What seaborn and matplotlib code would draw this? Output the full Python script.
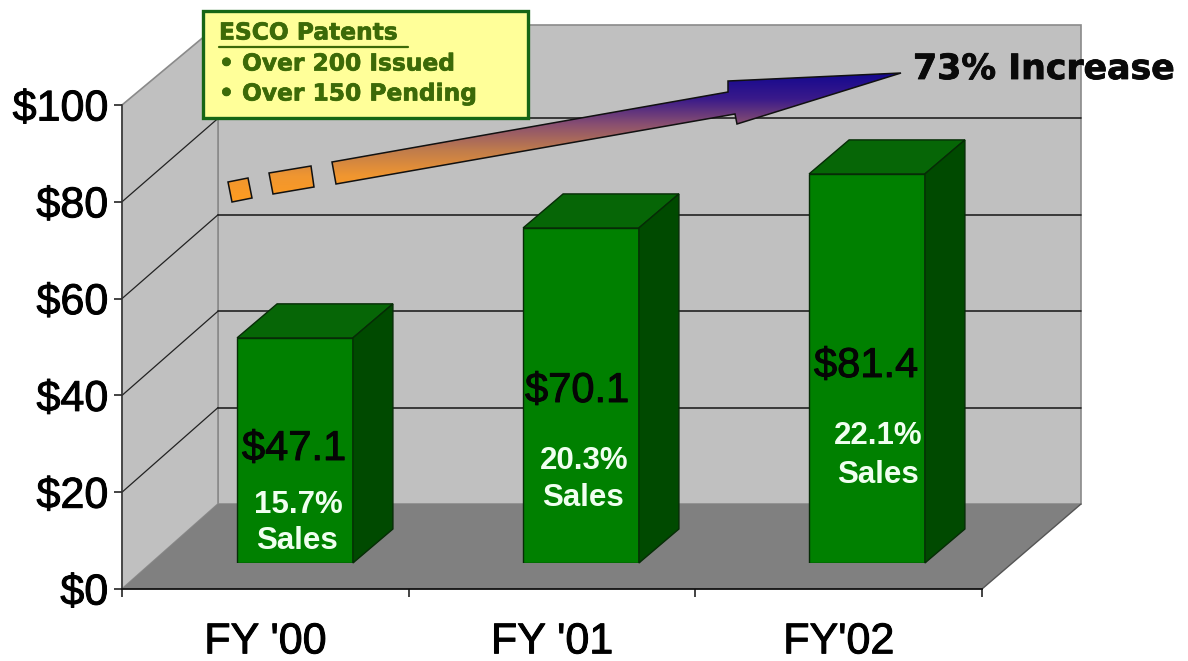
import numpy as np
import pandas as pd
import matplotlib
matplotlib.use("Agg")
import matplotlib.pyplot as plt
import matplotlib.patheffects as pe
from matplotlib import font_manager
from matplotlib.colors import LinearSegmentedColormap
from matplotlib.patches import Polygon, PathPatch, Rectangle
from matplotlib.path import Path
import seaborn as sns

# Chart values
YEARS = ["FY '00", "FY '01", "FY'02"]
SPEND = [47.1, 70.1, 81.4]
PCT_SALES = ["15.7%", "20.3%", "22.1%"]
Y_TICKS = [0, 20, 40, 60, 80, 100]
Y_LABELS = ["$0", "$20", "$40", "$60", "$80", "$100"]
NOTE_LINES = ["ESCO Patents", "\u2022 Over 200 Issued", "\u2022 Over 150 Pending"]
INCREASE = "73% Increase"

W, H = 1188, 661
SANS = "Liberation Sans"
BOLD = "DejaVu Sans"

sns.set_theme(style="ticks")
installed = {f.name for f in font_manager.fontManager.ttflist}
NARROW = "Liberation Sans Narrow" if "Liberation Sans Narrow" in installed else SANS
BIG = 36 if NARROW != SANS else 31
plt.rcParams["font.family"] = [SANS, "DejaVu Sans"]

fig = plt.figure(figsize=(W / 100, H / 100), dpi=100, facecolor="white")


def px_axes(left, top, right, bottom, zorder):
    # axes placed by picture pixels
    return fig.add_axes([left / W, 1 - bottom / H, (right - left) / W, (bottom - top) / H],
                        zorder=zorder, facecolor="none")


def overlay(zorder):
    a = px_axes(0, 0, W, H, zorder)
    a.set_xlim(0, W)
    a.set_ylim(H, 0)
    a.set_axis_off()
    return a


def heavier(text, width=0.7):
    text.set_path_effects([pe.withStroke(linewidth=width, foreground=text.get_color())])


bg = overlay(0)
fg = overlay(3)

# walls and floor of the fake 3D box
FL, FR, FB, FT = 122, 982, 589, 105   # front plane
BL, BR, BB, BT = 218, 1081, 504, 25   # back plane
BACK_PX = 4.82                        # back wall pixels per dollar
WALL_EDGE = "#8a8a8a"
bg.add_patch(Polygon([(BL, BT), (BR, BT), (BR, BB), (BL, BB)], fc="#c0c0c0", ec=WALL_EDGE, lw=1.2))
bg.add_patch(Polygon([(FL, FT), (BL, BT), (BL, BB), (FL, FB)], fc="#c0c0c0", ec=WALL_EDGE, lw=1.2))
bg.add_patch(Polygon([(FL, FB), (BL, BB), (BR, BB), (FR, FB)], fc="#808080", ec="none"))
bg.plot([FR, BR], [FB, BB], color="#555555", lw=1.0)

for v in Y_TICKS[1:-1]:
    yb = BB - BACK_PX * v
    yf = FB + (FT - FB) * v / 100
    bg.plot([BL, BR], [yb, yb], color="#222222", lw=1.2)
    bg.plot([FL, BL], [yf, yb], color="#222222", lw=0.9)

# growth arrow, gradient clipped to the outline
arrow_verts = [
    [(228, 182), (248, 178), (252, 198), (232, 202), (228, 182)],
    [(269, 173), (311, 166), (314, 187), (273, 194), (269, 173)],
    [(332, 162), (728, 92), (728, 81), (901, 73), (737, 124), (735, 114), (336, 184), (332, 162)],
]
codes, verts = [], []
for part in arrow_verts:
    verts += part
    codes += [Path.MOVETO] + [Path.LINETO] * (len(part) - 2) + [Path.CLOSEPOLY]
arrow_path = Path(verts, codes)
grad = LinearSegmentedColormap.from_list(
    "arrow", ["#14088f", "#3a1a8a", "#8a5070", "#c07c4c", "#f09630", "#ff9c20"])
img = bg.imshow(np.linspace(0, 1, 256).reshape(-1, 1), cmap=grad, aspect="auto",
                extent=(220, 905, 202, 73), zorder=3)
outline = PathPatch(arrow_path, fc="none", ec="#111111", lw=1.1, zorder=4)
bg.add_patch(outline)
img.set_clip_path(outline)
bg.set_xlim(0, W)
bg.set_ylim(H, 0)

# axis ticks on the front plane
tick_ax = px_axes(FL, FT, FR, FB, 1)
tick_ax.set_xlim(-0.5, 2.5)
tick_ax.set_ylim(0, 100)
tick_ax.set_yticks(Y_TICKS, Y_LABELS, family=NARROW)
tick_ax.set_xticks([-0.5, 0.5, 1.5, 2.5], ["", "", "", ""])
tick_ax.set_xticks(range(len(YEARS)), YEARS, minor=True, family=NARROW)
tick_ax.tick_params(axis="y", length=6, width=1.1, color="#111111", pad=4, labelsize=BIG, labelcolor="black")
tick_ax.tick_params(axis="x", which="major", length=6, width=1.1, color="#111111")
tick_ax.tick_params(axis="x", which="minor", length=0, pad=24, labelsize=BIG, labelcolor="black")
for lab in tick_ax.get_yticklabels() + tick_ax.get_xticklabels(minor=True):
    heavier(lab)
for side in ["top", "right"]:
    tick_ax.spines[side].set_visible(False)
tick_ax.spines["left"].set_color("#333333")
tick_ax.spines["bottom"].set_color("#111111")
tick_ax.spines["left"].set_linewidth(1.1)
tick_ax.spines["bottom"].set_linewidth(1.3)

# bars sit part way back in the box
bar_ax = px_axes(152, 85, 1010, 563, 2)
df = pd.DataFrame({"year": YEARS, "spend": SPEND})
sns.barplot(data=df, x="year", y="spend", ax=bar_ax, color="#008000", saturation=1,
            width=0.405, edgecolor="#062c06", linewidth=1.0)
bar_ax.set_xlim(-0.5, 2.5)
bar_ax.set_ylim(0, 100)
DX, DY = 40 / 286, 34 / 4.78
for bar in bar_ax.patches:
    x0, x1, top = bar.get_x(), bar.get_x() + bar.get_width(), bar.get_height()
    bar_ax.add_patch(Polygon([(x0, top), (x1, top), (x1 + DX, top + DY), (x0 + DX, top + DY)],
                             fc="#066606", ec="#062c06", lw=1.0, clip_on=False))
    bar_ax.add_patch(Polygon([(x1, 0), (x1 + DX, DY), (x1 + DX, top + DY), (x1, top)],
                             fc="#004a00", ec="#062c06", lw=1.0, clip_on=False))
bar_ax.set_axis_off()

# labels on the bars
VAL_POS = [(294, 449), (577, 391), (866, 366)]
PCT_POS = [(298, 505), (584, 461), (878, 436)]
SALES_POS = [(297, 541), (583, 498), (878, 475)]
for v, pct, p1, p2, p3 in zip(SPEND, PCT_SALES, VAL_POS, PCT_POS, SALES_POS):
    heavier(fg.text(*p1, f"${v}", ha="center", va="center", fontsize=BIG - 1, family=NARROW, color="#050505"))
    fg.text(*p2, pct, ha="center", va="center", fontsize=22.5, fontweight="bold", color="#f0fff0")
    fg.text(*p3, "Sales", ha="center", va="center", fontsize=22.5, fontweight="bold", color="#f0fff0")

# patents note
fg.add_patch(Rectangle((203, 11), 325, 107, fc="#ffff99", ec="#166616", lw=2.4))
NOTE_POS = [(219, 33), (219, 64), (219, 94)]
for line, (x, y) in zip(NOTE_LINES, NOTE_POS):
    heavier(fg.text(x, y, line, ha="left", va="center", fontsize=16.8, fontweight="bold",
                    family=BOLD, color="#3c6a08"), 0.5)
fg.plot([219, 408], [46.5, 46.5], color="#3c6a08", lw=1.6)

heavier(fg.text(913, 69, INCREASE, ha="left", va="center", fontsize=25, fontweight="bold",
                family=BOLD, color="#0a0a0a"), 0.6)

fig.savefig("out.png", dpi=100)
